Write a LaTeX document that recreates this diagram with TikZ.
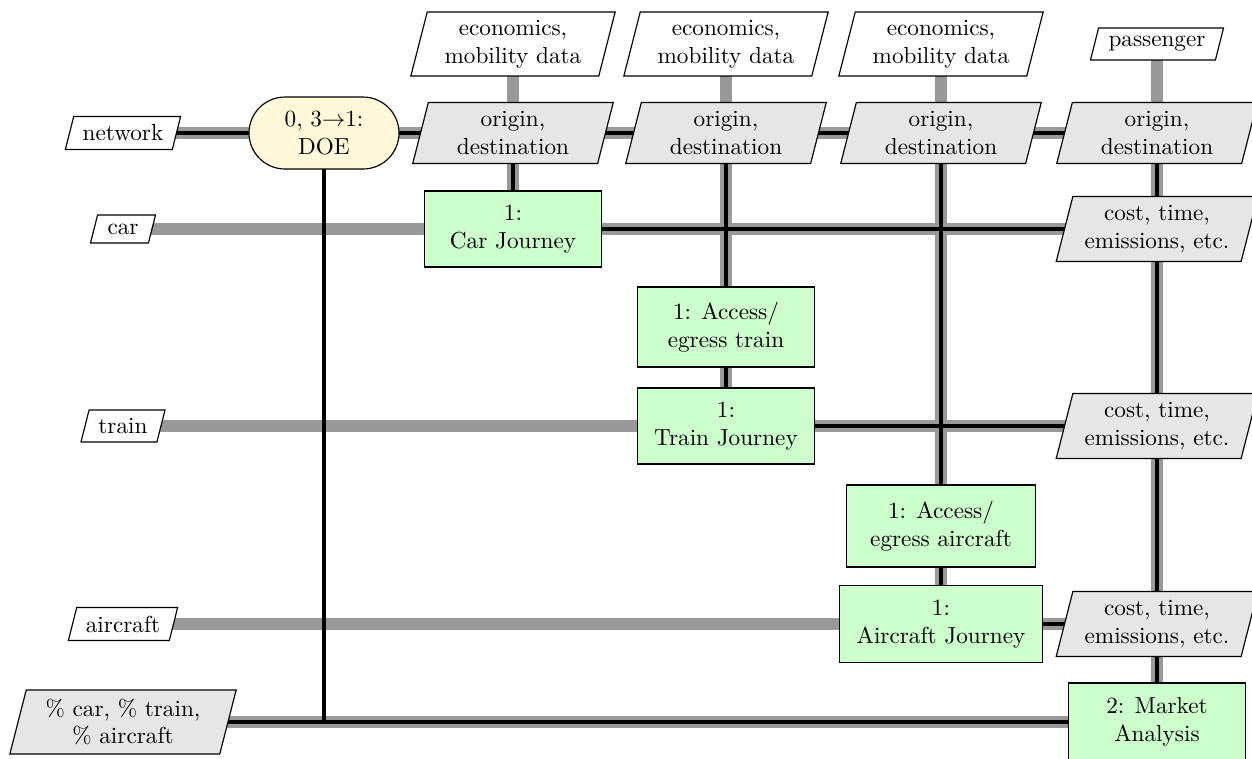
\documentclass[tikz,border=0pt]{standalone}
\definecolor{datagray}{RGB}{230,230,230}
\definecolor{procgreen}{RGB}{204,255,204}
\definecolor{doeyellow}{RGB}{255,249,218}
\pgfdeclarelayer{lines}
\pgfdeclarelayer{shapes}
\pgfsetlayers{lines,shapes,main}
\tikzset{
  procbox/.style={draw=black, line width=0.5pt, fill=procgreen, inner sep=0pt, align=center},
  doebox/.style={draw=black, line width=0.5pt, fill=doeyellow, inner sep=0pt, align=center, rounded corners=15.5pt},
  dtext/.style={inner sep=0pt, align=center},
  dshape/.style={draw=black, line width=0.5pt},
  dataline/.style={draw=black!40, line width=4.8pt},
  procline/.style={draw=black, line width=1.4pt},
}
% name, position, width px, height px, fill, text
\newcommand\mkdata[6]{%
  \node[dtext, minimum width=#3*0.431pt, minimum height=#4*0.431pt] (#1) at (#2) {#6};
  \begin{pgfonlayer}{shapes}
    \path[dshape, fill=#5] ([xshift=-#4*0.056pt]#1.south west) -- ([xshift=#4*0.056pt]#1.north west)
      -- ([xshift=#4*0.056pt]#1.north east) -- ([xshift=-#4*0.056pt]#1.south east) -- cycle;
  \end{pgfonlayer}}
\begin{document}
\begin{tikzpicture}[x=0.431pt,y=-0.431pt]
\useasboundingbox (0,0) rectangle (1252,758);
% left inputs
\mkdata{net}{123,133}{106}{32}{white}{network}
\mkdata{car}{123,229}{57}{27}{white}{car}
\mkdata{train}{123,426}{75}{31}{white}{train}
\mkdata{air}{123,624}{100}{32}{white}{aircraft}
\mkdata{pct}{123,722}{209}{63}{datagray}{\% car, \% train,\\\% aircraft}
% top inputs
\mkdata{e1}{513,44}{187}{63}{white}{economics,\\mobility data}
\mkdata{e2}{726,44}{187}{63}{white}{economics,\\mobility data}
\mkdata{e3}{941,44}{187}{63}{white}{economics,\\mobility data}
\mkdata{pass}{1157,44}{124}{31}{white}{passenger}
% row 1
\node[doebox, minimum width=150*0.431pt, minimum height=72*0.431pt] (doe) at (324,133) {0, 3$\rightarrow$1:\\DOE};
\mkdata{o1}{513,133}{184}{60}{datagray}{origin,\\destination}
\mkdata{o2}{726,133}{184}{60}{datagray}{origin,\\destination}
\mkdata{o3}{941,133}{184}{60}{datagray}{origin,\\destination}
\mkdata{o4}{1157,133}{184}{60}{datagray}{origin,\\destination}
% processes
\node[procbox, minimum width=177*0.431pt, minimum height=76*0.431pt] (cj) at (513,229) {1:\\Car Journey};
\node[procbox, minimum width=177*0.431pt, minimum height=80*0.431pt] (at) at (726,327) {1: Access/\\egress train};
\node[procbox, minimum width=177*0.431pt, minimum height=76*0.431pt] (tj) at (726,426) {1:\\Train Journey};
\node[procbox, minimum width=189*0.431pt, minimum height=82*0.431pt] (aa) at (941,526) {1: Access/\\egress aircraft};
\node[procbox, minimum width=203*0.431pt, minimum height=77*0.431pt] (aj) at (941,624) {1:\\Aircraft Journey};
\node[procbox, minimum width=177*0.431pt, minimum height=78*0.431pt] (ma) at (1157,722) {2: Market\\Analysis};
% outputs
\mkdata{c1}{1157,229}{184}{64}{datagray}{cost, time,\\emissions, etc.}
\mkdata{c2}{1157,426}{184}{64}{datagray}{cost, time,\\emissions, etc.}
\mkdata{c3}{1157,624}{184}{64}{datagray}{cost, time,\\emissions, etc.}
\begin{pgfonlayer}{lines}
  % data connections
  \draw[dataline] (net.center) -- (doe.center) -- (o1.center) -- (o2.center) -- (o3.center) -- (o4.center);
  \draw[dataline] (e1.center) -- (o1.center) -- (cj.center);
  \draw[dataline] (e2.center) -- (o2.center) -- (at.center) -- (tj.center);
  \draw[dataline] (e3.center) -- (o3.center) -- (aa.center) -- (aj.center);
  \draw[dataline] (pass.center) -- (o4.center) -- (c1.center) -- (c2.center) -- (c3.center) -- (ma.center);
  \draw[dataline] (car.center) -- (cj.center) -- (c1.center);
  \draw[dataline] (train.center) -- (tj.center) -- (c2.center);
  \draw[dataline] (air.center) -- (aj.center) -- (c3.center);
  \draw[dataline] (pct.center) -- (ma.center);
  % process connections
  \draw[procline] (net.center) -- (doe.center) -- (o1.center) -- (o2.center) -- (o3.center) -- (o4.center);
  \draw[procline] (o1.center) -- (cj.center);
  \draw[procline] (o2.center) -- (at.center) -- (tj.center);
  \draw[procline] (o3.center) -- (aa.center) -- (aj.center);
  \draw[procline] (o4.center) -- (c1.center) -- (c2.center) -- (c3.center) -- (ma.center);
  \draw[procline] (cj.center) -- (c1.center);
  \draw[procline] (tj.center) -- (c2.center);
  \draw[procline] (aj.center) -- (c3.center);
  \draw[procline] (pct.center) -- (ma.center);
  \draw[procline] (doe.center) -- (doe.center |- pct.center);
\end{pgfonlayer}
\end{tikzpicture}
\end{document}
